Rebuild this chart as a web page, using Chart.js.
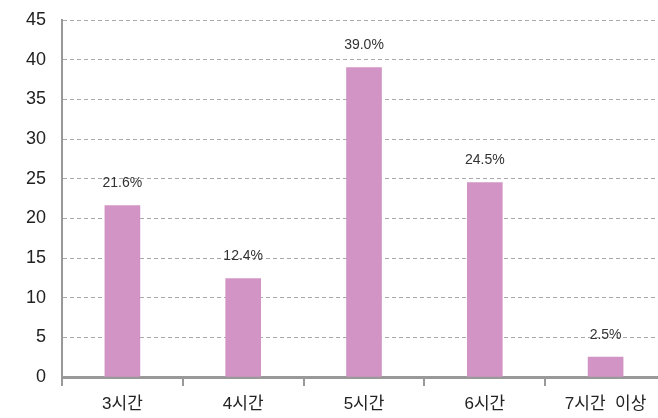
<!DOCTYPE html>
<html>
<head>
<meta charset="utf-8">
<script src="https://cdn.jsdelivr.net/npm/chart.js@4/dist/chart.umd.min.js"></script>
<style>
html,body{margin:0;padding:0;background:#fff;overflow:hidden;}
#wrap{width:658px;height:418px;overflow:hidden;position:relative;}
#box{width:666px;height:418px;position:absolute;left:0;top:0;}
</style>
</head>
<body>
<div id="wrap"><div id="box"><canvas id="c"></canvas></div></div>
<script>
const categories = ['3시간', '4시간', '5시간', '6시간', '7시간  이상'];
const values = [21.6, 12.4, 39.0, 24.5, 2.5];
const valueLabels = ['21.6%', '12.4%', '39.0%', '24.5%', '2.5%'];
const yTicks = [0, 5, 10, 15, 20, 25, 30, 35, 40, 45];

const FONT = '"Liberation Sans", "Noto Sans CJK KR", sans-serif';

const labelPlugin = {
  id: 'valueLabels',
  afterDatasetsDraw(chart) {
    const ctx = chart.ctx;
    const meta = chart.getDatasetMeta(0);
    ctx.save();
    ctx.font = '14px ' + FONT;
    ctx.fillStyle = '#333';
    ctx.textAlign = 'center';
    ctx.textBaseline = 'bottom';
    meta.data.forEach((bar, i) => {
      ctx.fillText(valueLabels[i], bar.x, bar.y - 15);
    });
    ctx.restore();
  }
};

new Chart(document.getElementById('c'), {
  type: 'bar',
  data: {
    labels: categories,
    datasets: [{
      data: values,
      backgroundColor: '#d194c4',
      borderWidth: 0,
      barThickness: 35
    }]
  },
  options: {
    responsive: true,
    maintainAspectRatio: false,
    animation: false,
    layout: { padding: { top: 20, right: 0, left: 0, bottom: 0 } },
    plugins: { legend: { display: false }, tooltip: { enabled: false } },
    scales: {
      x: {
        offset: true,
        grid: {
          offset: true,
          drawOnChartArea: false,
          drawTicks: true,
          tickLength: 9,
          color: '#999',
          lineWidth: 2
        },
        border: { display: true, color: '#999', width: 3 },
        ticks: {
          color: '#222',
          font: { family: FONT, size: 17 },
          padding: 8
        },
        afterFit(scale) { scale.height = 41; }
      },
      y: {
        min: 0,
        max: 45,
        afterBuildTicks(scale) { scale.ticks = yTicks.map(v => ({ value: v })); },
        grid: {
          color: '#aaa',
          lineWidth: 1,
          drawTicks: false
        },
        border: { display: true, color: '#999', width: 2, dash: [4, 3] },
        ticks: {
          color: '#222',
          font: { family: FONT, size: 18 },
          padding: 16
        },
        afterFit(scale) {
          scale.width = 62;
          scale.paddingTop = 0;
          scale.paddingBottom = 0;
        }
      }
    }
  },
  plugins: [labelPlugin]
});
</script>
</body>
</html>
